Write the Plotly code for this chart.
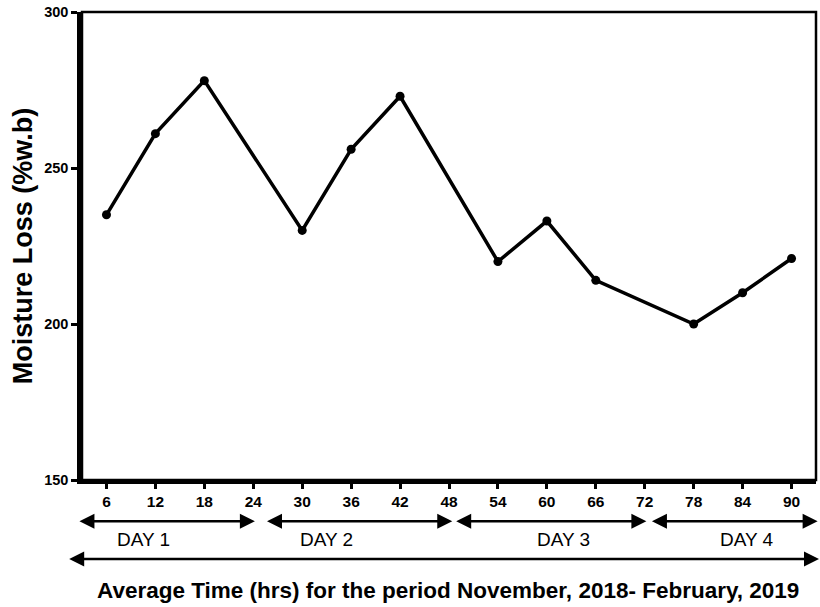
import plotly.graph_objects as go

# Sampling times (hours) and measured moisture loss (% wet basis)
hours = [6, 12, 18, 30, 36, 42, 54, 60, 66, 78, 84, 90]
moisture_loss = [235, 261, 278, 230, 256, 273, 220, 233, 214, 200, 210, 221]

x_ticks = [6, 12, 18, 24, 30, 36, 42, 48, 54, 60, 66, 72, 78, 84, 90]
y_ticks = [150, 200, 250, 300]

# Day spans along the time axis (hours)
day_labels = ["DAY 1", "DAY 2", "DAY 3", "DAY 4"]
day_start = [2.5, 25.5, 48.7, 72.7]
day_end = [24.2, 48.4, 72.2, 93.2]
day_label_x = [10.5, 33.0, 62.0, 84.5]

font_family = "Liberation Sans, Arial, sans-serif"

fig = go.Figure()
fig.add_trace(go.Scatter(
    x=hours, y=moisture_loss, mode="lines+markers",
    line=dict(color="black", width=3.5),
    marker=dict(color="black", size=9),
    showlegend=False,
))

annotations = []
# Double-headed arrows for each day
for s, e, lab, lx in zip(day_start, day_end, day_labels, day_label_x):
    annotations.append(dict(
        x=e, y=-0.088, xref="x", yref="paper",
        ax=s, ay=0, axref="x", ayref="pixel",
        showarrow=True, arrowhead=2, arrowside="end+start",
        arrowsize=1.2, arrowwidth=2.5, arrowcolor="black", text="",
    ))
    annotations.append(dict(
        x=lx, y=-0.128, xref="x", yref="paper", text=lab, showarrow=False,
        font=dict(family=font_family, size=19, color="black"),
        xanchor="center", yanchor="middle",
    ))

# Overall period arrow
annotations.append(dict(
    x=1.005, y=-0.169, xref="paper", yref="paper",
    ax=-752, ay=0, axref="pixel", ayref="pixel",
    showarrow=True, arrowhead=2, arrowside="end+start",
    arrowsize=1.2, arrowwidth=2.5, arrowcolor="black", text="",
))
annotations.append(dict(
    x=0.498, y=-0.237, xref="paper", yref="paper",
    text="Average Time (hrs) for the period November, 2018- February, 2019",
    showarrow=False, xanchor="center", yanchor="middle",
    font=dict(family=font_family, size=22.5, color="black", weight="bold"),
))

fig.update_layout(
    width=820, height=607,
    margin=dict(l=82, r=4, t=12, b=127),
    paper_bgcolor="white", plot_bgcolor="white",
    font=dict(family=font_family, color="black"),
    annotations=annotations,
    shapes=[dict(type="rect", xref="paper", yref="paper", x0=0, x1=1, y0=0, y1=1,
                 line=dict(color="black", width=2.5), layer="above")],
)
fig.update_xaxes(
    range=[3, 93], tickvals=x_ticks, ticktext=[str(v) for v in x_ticks],
    showgrid=False, zeroline=False, showline=True, linecolor="black", linewidth=3.5,
    ticks="outside", ticklen=5, tickwidth=2.5, tickcolor="black",
    tickfont=dict(family=font_family, size=15.5, color="black", weight="bold"),
)
fig.update_yaxes(
    range=[150, 300], tickvals=y_ticks,
    showgrid=False, zeroline=False, showline=True, linecolor="black", linewidth=4.5,
    ticks="outside", ticklen=6, tickwidth=2.5, tickcolor="black",
    tickfont=dict(family=font_family, size=14.5, color="black", weight="bold"),
    title=dict(text="Moisture Loss (%w.b)", standoff=5,
               font=dict(family=font_family, size=27, color="black", weight="bold")),
)

fig.write_html("out.html")
